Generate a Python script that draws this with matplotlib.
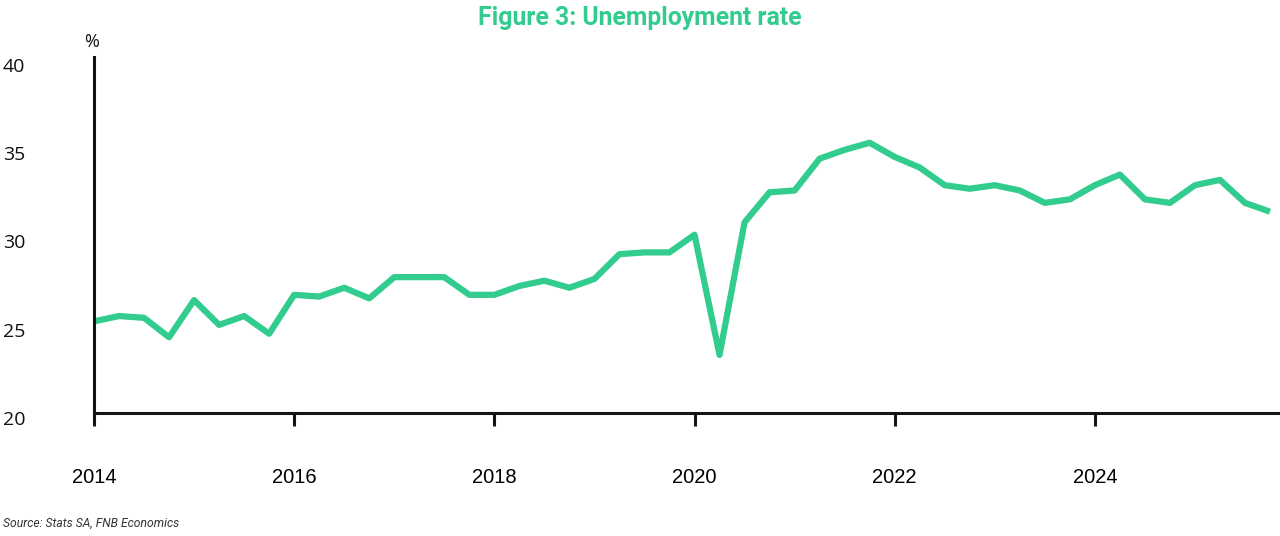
import numpy as np
import pandas as pd
import matplotlib
matplotlib.use("Agg")
import matplotlib.pyplot as plt
import matplotlib.transforms as mtransforms

# Квартальные данные: уровень безработицы, %
quarters = pd.period_range("2014Q1", "2025Q4", freq="Q")
rate = [25.2, 25.5, 25.4, 24.3, 26.4, 25.0, 25.5, 24.5,
        26.7, 26.6, 27.1, 26.5, 27.7, 27.7, 27.7, 26.7,
        26.7, 27.2, 27.5, 27.1, 27.6, 29.0, 29.1, 29.1,
        30.1, 23.3, 30.8, 32.5, 32.6, 34.4, 34.9, 35.3,
        34.5, 33.9, 32.9, 32.7, 32.9, 32.6, 31.9, 32.1,
        32.9, 33.5, 32.1, 31.9, 32.9, 33.2, 31.9, 31.4]
year_ticks = [2014, 2016, 2018, 2020, 2022, 2024]
y_ticks = [20, 25, 30, 35, 40]

green = "#33CC8F"
dark = "#141414"

x = quarters.year + (quarters.quarter - 1) / 4

fig = plt.figure(figsize=(12.8, 5.36), dpi=100)
ax = fig.add_axes([94 / 1280, 1 - 413.3 / 536, (1279 - 94) / 1280, (413.3 - 57) / 536])

ax.plot(x, rate, color=green, lw=4.5, solid_capstyle="butt")

ax.set_xlim(2014, 2025.84)
ax.set_ylim(20, 40.15)

for s in ["top", "right"]:
    ax.spines[s].set_visible(False)
for s in ["left", "bottom"]:
    ax.spines[s].set_linewidth(2.2)
    ax.spines[s].set_color(dark)

ax.set_xticks(year_ticks)
ax.set_xticklabels([str(y) for y in year_ticks], fontsize=14.5, family="Liberation Sans")
ax.tick_params(axis="x", direction="out", length=9.5, width=2.2, color=dark, pad=30)

# Подписи оси Y слева у края рисунка, чуть ниже своих делений
ax.set_yticks(y_ticks)
ax.set_yticklabels([])
ax.tick_params(axis="y", length=0)
trans = mtransforms.blended_transform_factory(fig.transFigure, ax.transData) + \
    mtransforms.ScaledTranslation(0, -7 / 100, fig.dpi_scale_trans)
for v in y_ticks:
    ax.text(3 / 1280, v, str(v), transform=trans, ha="left", va="center",
            fontsize=14, family="Open Sans", color="#111111", clip_on=False)

fig.text(92 / 1280, 1 - 42 / 536, "%", ha="center", va="center",
         fontsize=13, family="Open Sans", color="#111111")

fig.text(640 / 1280, 1 - 18 / 536, "Figure 3: Unemployment rate", ha="center", va="center",
         fontsize=17.8, fontweight="bold", family="Roboto", color=green)

fig.text(3 / 1280, 1 - 523 / 536, "Source: Stats SA, FNB Economics", ha="left", va="center",
         fontsize=8.7, style="italic", family="Roboto", color="#333333")

fig.savefig("out.png", dpi=100)
